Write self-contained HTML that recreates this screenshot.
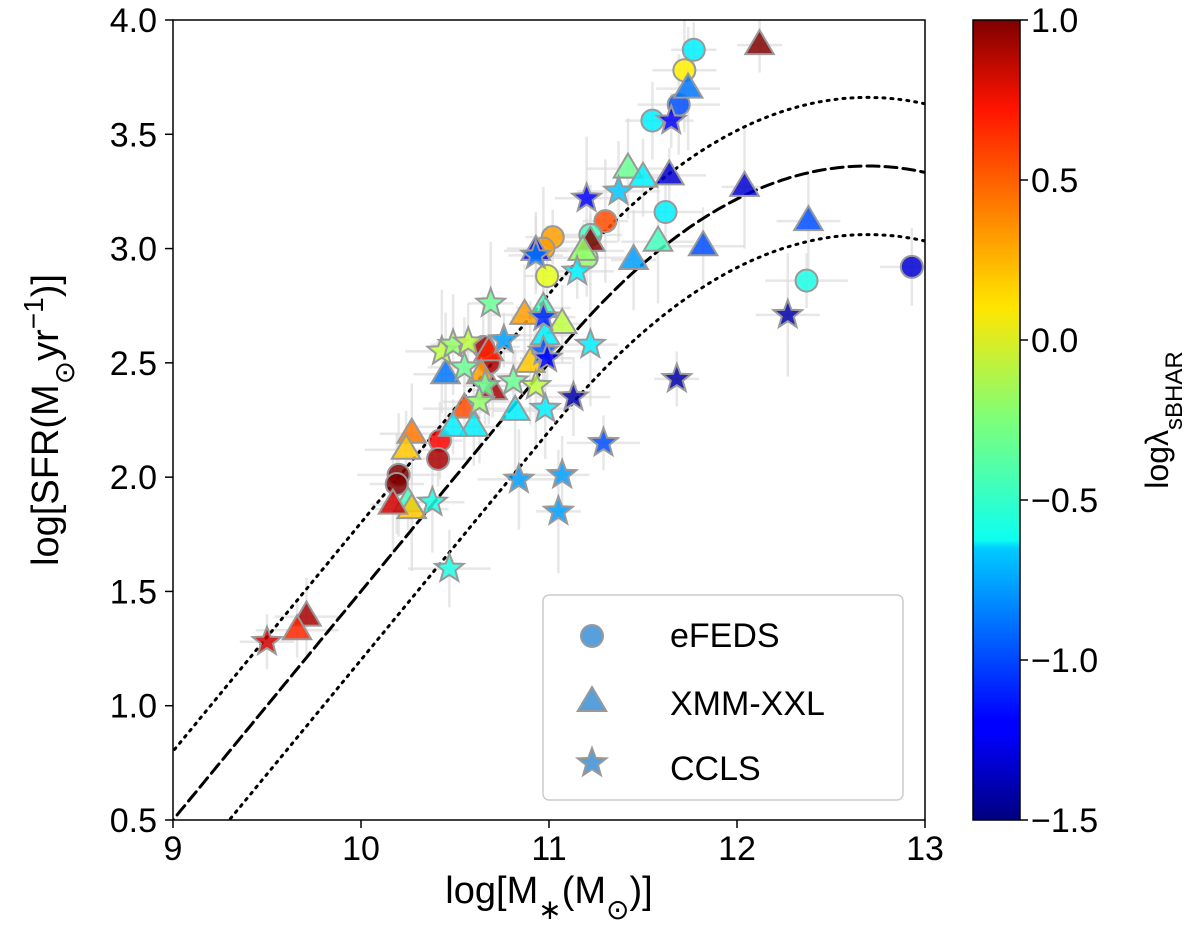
<!DOCTYPE html>
<html><head><meta charset="utf-8"><style>
html,body{margin:0;padding:0;background:#fff;width:1200px;height:936px;overflow:hidden}
text{font-family:"Liberation Sans","DejaVu Sans",sans-serif;fill:#000}
</style></head><body>
<svg id="chart" width="1200" height="936" viewBox="0 0 1200 936" xmlns="http://www.w3.org/2000/svg">
<defs>
<linearGradient id="jet" x1="0" y1="1" x2="0" y2="0">
<stop offset="0" stop-color="#00007f"/><stop offset="0.11" stop-color="#0000ff"/><stop offset="0.125" stop-color="#0000ff"/><stop offset="0.34" stop-color="#00ccff"/><stop offset="0.35" stop-color="#0dfff0"/><stop offset="0.5" stop-color="#7dff7a"/><stop offset="0.64" stop-color="#ffe600"/><stop offset="0.66" stop-color="#ffd700"/><stop offset="0.89" stop-color="#ff1300"/><stop offset="1" stop-color="#7f0000"/>
</linearGradient>
<clipPath id="plotclip"><rect x="173" y="20" width="752" height="800"/></clipPath>
</defs>
<g id="errs" clip-path="url(#plotclip)"></g>
<g id="curves" clip-path="url(#plotclip)"></g>
<g id="marks" clip-path="url(#plotclip)"></g>
<rect x="173" y="20" width="752" height="800" fill="none" stroke="#000" stroke-width="1.5"/>
<g id="axes"></g>
<text x="549" y="903" font-size="38" text-anchor="middle">log[M<tspan baseline-shift="sub" font-size="28">∗</tspan>(M<tspan baseline-shift="sub" font-size="28">⊙</tspan>)]</text>
<text transform="translate(58,420) rotate(-90)" font-size="38" text-anchor="middle">log[SFR(M<tspan baseline-shift="sub" font-size="28">⊙</tspan>yr<tspan baseline-shift="super" font-size="28">−1</tspan>)]</text>
<g>
<rect x="543" y="595" width="360" height="205" rx="6" fill="#fff" fill-opacity="0.8" stroke="#ccc" stroke-width="1.5"/>
<g id="legmarks"></g>
<text x="670" y="647" font-size="34">eFEDS</text>
<text x="670" y="715" font-size="34">XMM-XXL</text>
<text x="670" y="780" font-size="34">CCLS</text>
</g>
<rect x="973" y="20" width="47" height="800" fill="url(#jet)" stroke="#000" stroke-width="1.5"/>
<g id="cbticks"></g>
<text transform="translate(1168,420) rotate(-90)" font-size="32" text-anchor="middle">logλ<tspan baseline-shift="sub" font-size="24">sBHAR</tspan></text>
</svg>
<script>
const NS="http://www.w3.org/2000/svg";
const xTicks=[9,10,11,12,13];
const yTicks=[0.5,1.0,1.5,2.0,2.5,3.0,3.5,4.0];
const cTicks=[1.0,0.5,0.0,-0.5,-1.0,-1.5];
// eFEDS
const efX=[11.77,11.72,11.69,11.55,11.62,11.30,11.22,11.20,11.02,10.97,10.99,12.93,12.37,10.68,10.65,10.42,10.41,10.20,10.19];
const efY=[3.87,3.78,3.63,3.56,3.16,3.12,3.06,2.96,3.05,3.00,2.88,2.92,2.86,2.50,2.57,2.16,2.08,2.01,1.97];
const efC=[-0.6,0.1,-1.0,-0.6,-0.6,0.5,-0.4,-0.2,0.3,0.3,0.0,-1.3,-0.5,0.9,0.9,0.7,0.9,1.0,1.0];
// XMM-XXL
const xmX=[12.12,11.74,11.42,11.50,11.64,12.04,12.38,11.82,11.22,11.58,11.45,10.93,11.18,10.97,10.87,11.07,10.98,10.90,10.68,10.64,10.70,10.45,10.55,10.60,10.49,10.82,10.27,10.24,10.25,10.27,10.17,9.71,9.66];
const xmY=[3.89,3.70,3.35,3.31,3.32,3.27,3.12,3.01,3.03,3.03,2.95,2.99,2.99,2.74,2.71,2.67,2.62,2.50,2.55,2.45,2.38,2.45,2.30,2.22,2.22,2.29,2.19,2.12,1.89,1.86,1.88,1.39,1.33];
const xmC=[1.0,-0.9,-0.3,-0.6,-1.3,-1.3,-1.0,-1.0,1.0,-0.4,-0.8,-1.2,-0.2,-0.4,0.3,-0.1,-0.6,0.2,0.6,0.3,0.9,-0.9,0.5,-0.6,-0.6,-0.6,0.4,0.2,-0.4,0.2,0.8,0.9,0.6];
// CCLS
const ccX=[11.65,11.20,11.37,10.93,11.15,10.69,10.97,10.97,10.99,10.43,10.49,10.57,10.76,11.22,10.55,10.66,10.81,10.93,10.98,11.13,11.68,12.27,10.84,11.07,11.29,11.05,10.38,10.47,9.50,10.63];
const ccY=[3.56,3.22,3.25,2.97,2.90,2.76,2.70,2.55,2.52,2.55,2.58,2.59,2.60,2.58,2.48,2.40,2.42,2.40,2.30,2.35,2.43,2.71,1.99,2.01,2.15,1.85,1.89,1.60,1.28,2.33];
const ccC=[-1.2,-1.2,-0.7,-0.9,-0.6,-0.3,-1.1,-1.0,-1.2,-0.1,-0.2,-0.1,-0.8,-0.6,-0.3,-0.3,-0.3,-0.1,-0.6,-1.4,-1.4,-1.4,-0.8,-0.8,-1.0,-0.8,-0.5,-0.5,0.8,-0.2];
const sx=v=>173+(v-9)*188;
const sy=v=>820-(v-0.5)*228.571;
const sc=v=>820-(v+1.5)*320;
function jet(c){let t=(c+1.5)/2.5;t=Math.max(0,Math.min(1,t));
 const f=x=>Math.max(0,Math.min(1,1.5-Math.abs(4*t-x)));
 return `rgb(${Math.round(255*f(3))},${Math.round(255*f(2))},${Math.round(255*f(1))})`;}
function el(tag,attrs,parent){const e=document.createElementNS(NS,tag);for(const k in attrs)e.setAttribute(k,attrs[k]);parent.appendChild(e);return e;}
const axes=document.getElementById('axes');
xTicks.forEach(v=>{const g=el('g',{},axes);
 
 
 el('line',{x1:sx(v),x2:sx(v),y1:820,y2:828,stroke:'#000','stroke-width':1.5},g);
 const t=el('text',{x:sx(v),y:860,'font-size':34,'text-anchor':'middle'},g);t.textContent=v;});
yTicks.forEach(v=>{const g=el('g',{},axes);
 
 
 el('line',{x1:165,x2:173,y1:sy(v),y2:sy(v),stroke:'#000','stroke-width':1.5},g);
 const t=el('text',{x:157,y:sy(v)+12,'font-size':34,'text-anchor':'end'},g);t.textContent=v.toFixed(1);});
const cb=document.getElementById('cbticks');
cTicks.forEach(v=>{const g=el('g',{},cb);
 
 
 el('line',{x1:1020,x2:1028,y1:sc(v),y2:sc(v),stroke:'#000','stroke-width':1.5},g);
 const t=el('text',{x:1031,y:sc(v)+12,'font-size':34},g);t.textContent=(v<0?'−':'')+Math.abs(v).toFixed(1);});
const curves=document.getElementById('curves');
function ms(lm){const m=lm-9,r=0.667;return m-0.5+1.5*r-0.3*Math.pow(Math.max(0,m-0.36-2.5*r),2);}
[[0,'12,6','dashed'],[0.3,'2,6','upper-dotted'],[-0.3,'2,6','lower-dotted']].forEach(([off,da,nm])=>{
 let d='';for(let lm=8.9;lm<=13.05;lm+=0.02){d+=(d?'L':'M')+sx(lm).toFixed(1)+','+sy(ms(lm)+off).toFixed(1);}
 const p=el('path',{d:d,fill:'none',stroke:'#000','stroke-width':3,'stroke-dasharray':da,'stroke-linecap':'round'},curves);
 
 });
const errs=document.getElementById('errs');
function addErr(X,Y){X.forEach((x,i)=>{const ex=0.12+0.1*((i*7)%5)/4, ey=0.12+0.15*((i*3)%4)/3;
 const g=el('g',{stroke:'#ddd','stroke-width':2.5,opacity:0.7},errs);
 
 
 el('line',{x1:sx(x-ex),x2:sx(x+ex),y1:sy(Y[i]),y2:sy(Y[i])},g);
 el('line',{x1:sx(x),x2:sx(x),y1:sy(Y[i]-ey),y2:sy(Y[i]+ey)},g);});}
addErr(efX,efY);addErr(xmX,xmY);addErr(ccX,ccY);
const marks=document.getElementById('marks');
function star(cx,cy,R){let p=[];for(let k=0;k<10;k++){const a=-Math.PI/2+k*Math.PI/5,r=k%2?R*0.42:R;p.push((cx+r*Math.cos(a)).toFixed(1)+','+(cy+r*Math.sin(a)).toFixed(1));}return p.join(' ');}
function tri(cx,cy,R){return `${cx},${cy-R} ${cx-R*0.95},${cy+R*0.6} ${cx+R*0.95},${cy+R*0.6}`;}
function marker(kind,cx,cy,fill,parent){let e;
 if(kind==='c')e=el('circle',{cx:cx,cy:cy,r:11},parent);
 else if(kind==='t')e=el('polygon',{points:tri(cx,cy,15)},parent);
 else e=el('polygon',{points:star(cx,cy,15)},parent);
 e.setAttribute('fill',fill);e.setAttribute('stroke','#999');e.setAttribute('stroke-width',2);e.setAttribute('fill-opacity',0.85);return e;}
[['c',efX,efY,efC,'efeds-point'],['t',xmX,xmY,xmC,'xmm-point'],['s',ccX,ccY,ccC,'ccls-point']].forEach(([k,X,Y,C,nm])=>{
 X.forEach((x,i)=>{const e=marker(k,sx(x),sy(Y[i]),jet(C[i]),marks);
 
 });});
const lm=document.getElementById('legmarks');
[['c',636,'legend-marker-efeds'],['t',702,'legend-marker-xmm'],['s',763,'legend-marker-ccls']].forEach(([k,y,nm])=>{
 const e=marker(k,592,y,'#3a8fd6',lm);
 
 });
</script>
</body></html>
